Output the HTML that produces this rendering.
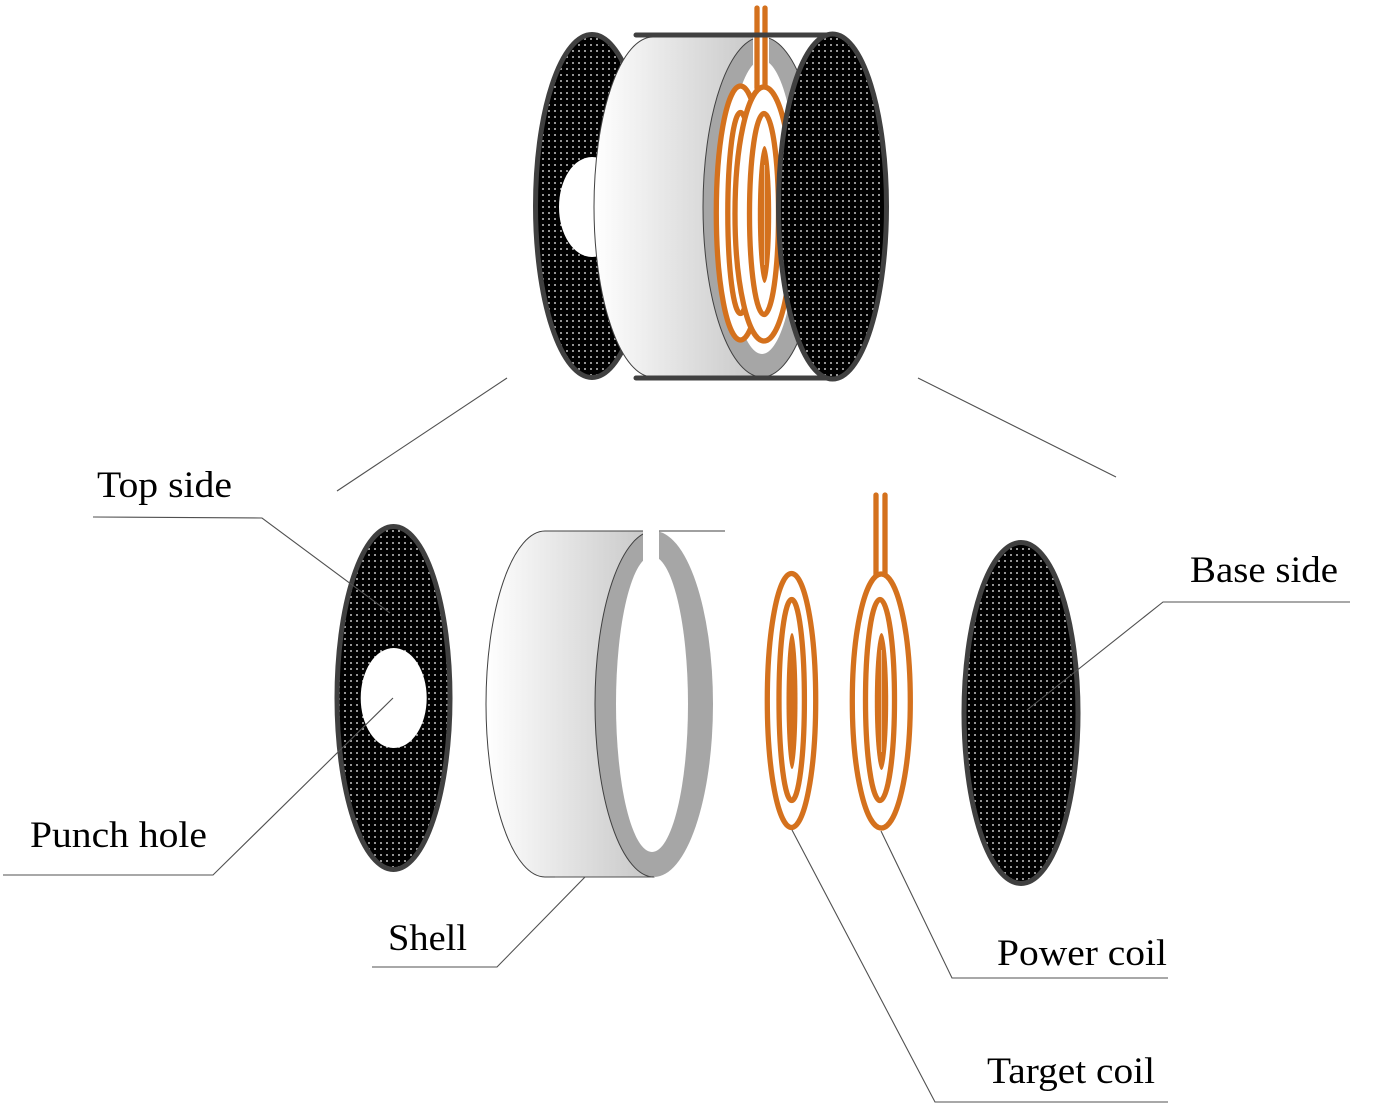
<!DOCTYPE html>
<html>
<head>
<meta charset="utf-8">
<style>
  html, body { margin: 0; padding: 0; background: #fff; }
  svg { display: block; }
  text { font-family: "Liberation Serif", serif; font-size: 37px; fill: #000; }
</style>
</head>
<body>
<svg width="1378" height="1111" viewBox="0 0 1378 1111" xmlns="http://www.w3.org/2000/svg">
  <defs>
    <pattern id="dots" width="6" height="6" patternUnits="userSpaceOnUse">
      <rect width="6" height="6" fill="#000"/>
      <rect x="2.2" y="2.2" width="1.6" height="1.6" fill="#e6e6e6"/>
    </pattern>
    <linearGradient id="shellB" gradientUnits="userSpaceOnUse" x1="486" y1="0" x2="654" y2="0">
      <stop offset="0" stop-color="#ffffff"/>
      <stop offset="1" stop-color="#c6c6c6"/>
    </linearGradient>
    <linearGradient id="shellT" gradientUnits="userSpaceOnUse" x1="594" y1="0" x2="762" y2="0">
      <stop offset="0" stop-color="#ffffff"/>
      <stop offset="1" stop-color="#c6c6c6"/>
    </linearGradient>
  </defs>

  <!-- ================= TOP ASSEMBLY ================= -->
  <ellipse cx="592" cy="206" rx="56.5" ry="171.5" fill="url(#dots)" stroke="#404040" stroke-width="5"/>
  <ellipse cx="592" cy="207" rx="33" ry="50" fill="#fff"/>

  <path d="M653,37 L762,37 L762,377 L653,377 A59 170 0 0 1 653,37 Z" fill="url(#shellT)" stroke="#404040" stroke-width="1"/>
  <ellipse cx="762" cy="207" rx="59" ry="170" fill="#a6a6a6" stroke="#404040" stroke-width="1"/>
  <ellipse cx="762" cy="207" rx="36" ry="147" fill="#fff"/>
  <rect x="753" y="36" width="16" height="30" fill="#fff"/>

  <!-- target coil (top) -->
  <g fill="none" stroke="#d4711d" stroke-width="5.3">
    <ellipse cx="740.5" cy="213" rx="24.2" ry="127" fill="#fff"/>
    <ellipse cx="740.5" cy="213" rx="12.7" ry="100.5"/>
  </g>
  <ellipse cx="741" cy="214" rx="5.5" ry="68" fill="#d4711d"/>

  <!-- power coil (top) -->
  <g fill="none" stroke="#d4711d" stroke-width="5.3" stroke-linecap="round">
    <line x1="757" y1="8" x2="757" y2="88"/>
    <line x1="765" y1="8" x2="765" y2="88"/>
    <ellipse cx="764" cy="214" rx="29" ry="127" fill="#fff"/>
    <ellipse cx="764" cy="214" rx="14.5" ry="100.5"/>
  </g>
  <ellipse cx="764.5" cy="214.5" rx="6.7" ry="68.5" fill="#d4711d"/>
  <line x1="764.5" y1="165" x2="764.5" y2="265" stroke="#fff" stroke-width="0.8" opacity="0.6"/>

  <line x1="636" y1="35" x2="833" y2="35" stroke="#404040" stroke-width="5" stroke-linecap="round"/>
  <line x1="636" y1="378" x2="833" y2="378" stroke="#404040" stroke-width="5" stroke-linecap="round"/>

  <ellipse cx="832.5" cy="206.5" rx="54" ry="172.5" fill="url(#dots)" stroke="#404040" stroke-width="5"/>

  <!-- ================= EXPLODED VIEW ================= -->
  <ellipse cx="393.5" cy="698" rx="56.5" ry="171.5" fill="url(#dots)" stroke="#404040" stroke-width="5"/>
  <ellipse cx="393.7" cy="698" rx="33" ry="50" fill="#fff"/>

  <path d="M545,531 L654,531 L654,877 L545,877 A59 173 0 0 1 545,531 Z" fill="url(#shellB)" stroke="#404040" stroke-width="1"/>
  <line x1="654" y1="531" x2="725" y2="531" stroke="#404040" stroke-width="1"/>
  <ellipse cx="654" cy="704" rx="59" ry="173" fill="#a6a6a6"/>
  <path d="M654,531 A59 173 0 0 0 654,877" fill="none" stroke="#404040" stroke-width="1"/>
  <ellipse cx="652" cy="704" rx="36" ry="148" fill="#fff"/>
  <rect x="643" y="529" width="16" height="34" fill="#fff"/>

  <!-- target coil -->
  <g fill="none" stroke="#d4711d" stroke-width="5.3">
    <ellipse cx="791.5" cy="700.5" rx="24.2" ry="127"/>
    <ellipse cx="791.7" cy="700" rx="12.7" ry="100.5"/>
  </g>
  <ellipse cx="792" cy="701" rx="5.5" ry="68" fill="#d4711d"/>

  <!-- power coil -->
  <g fill="none" stroke="#d4711d" stroke-width="5.3" stroke-linecap="round">
    <line x1="876" y1="495" x2="876" y2="575"/>
    <line x1="885" y1="495" x2="885" y2="575"/>
    <ellipse cx="881.3" cy="701" rx="29" ry="127" fill="#fff"/>
    <ellipse cx="880" cy="700" rx="14.5" ry="100.5"/>
  </g>
  <ellipse cx="881.5" cy="701.5" rx="6.7" ry="68.5" fill="#d4711d"/>
  <line x1="881.5" y1="650" x2="881.5" y2="752" stroke="#fff" stroke-width="0.8" opacity="0.6"/>

  <ellipse cx="1021" cy="713" rx="57" ry="170.5" fill="url(#dots)" stroke="#404040" stroke-width="5"/>

  <!-- ================= LEADER LINES ================= -->
  <g fill="none" stroke="#505050" stroke-width="1.1">
    <line x1="337" y1="491" x2="507" y2="378"/>
    <line x1="918" y1="378" x2="1116" y2="477"/>
    <polyline points="93,517 262,518 390,613"/>
    <polyline points="3,875 213,875 393,698"/>
    <polyline points="372,967 497,967 585,877"/>
    <line x1="555" y1="877" x2="652" y2="877"/>
    <polyline points="1168,978 952,978 881,831"/>
    <polyline points="1168,1102 935,1102 792,830"/>
    <polyline points="1350,602 1163,602 1027,710"/>
  </g>

  <!-- ================= LABELS ================= -->
  <text x="97" y="497" textLength="135" lengthAdjust="spacingAndGlyphs">Top side</text>
  <text x="30" y="847" textLength="177" lengthAdjust="spacingAndGlyphs">Punch hole</text>
  <text x="388" y="950" textLength="79" lengthAdjust="spacingAndGlyphs">Shell</text>
  <text x="997" y="965" textLength="170" lengthAdjust="spacingAndGlyphs">Power coil</text>
  <text x="987" y="1083" textLength="168" lengthAdjust="spacingAndGlyphs">Target coil</text>
  <text x="1190" y="582" textLength="148" lengthAdjust="spacingAndGlyphs">Base side</text>
</svg>
</body>
</html>
